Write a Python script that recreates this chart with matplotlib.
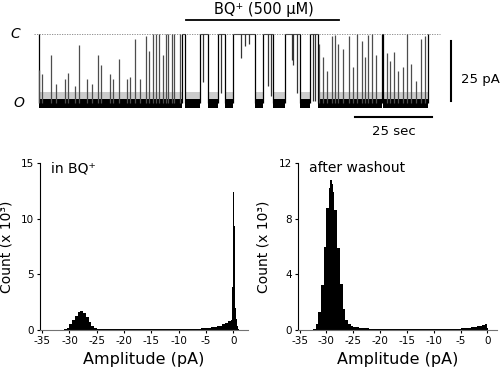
import numpy as np
import matplotlib
matplotlib.use('Agg')
import matplotlib.pyplot as plt

plt.rcParams['font.family'] = 'DejaVu Sans'
plt.rcParams['axes.unicode_minus'] = False

# ---- trace data (time in s, current in pA, closed level = 0) ----
open_level = -29.0
open_bursts = [(0.0, 46.4), (47.4, 52.3), (54.9, 58.1), (60.4, 63.0),
               (70.1, 72.7), (76.0, 79.9), (84.7, 88.0), (90.6, 111.4),
               (111.7, 126.3)]
# brief closing events during bursts: time, height above open level
spike_t = [0.1, 1.0, 3.8, 5.4, 8.4, 9.5, 11.7, 13.0, 15.5, 17.1, 19.3, 20.0,
           23.1, 24.1, 26.1, 28.5, 29.5, 31.2, 32.8, 34.7, 35.8, 37.1, 38.0,
           39.1, 40.4, 41.2, 42.0, 43.1, 43.8, 45.8,
           90.9, 92.3, 93.4, 95.0, 96.1, 97.2, 98.8, 100.8, 102.1, 103.2,
           104.8, 105.9, 106.9, 108.0, 109.4, 113.0, 114.0, 115.4, 116.7,
           118.3, 119.6, 120.7, 122.4, 124.0, 125.3]
spike_h = [14, 12, 20, 8, 10, 12.7, 7, 24.5, 10, 8, 20, 16,
           12, 10, 18.4, 10, 11, 27, 10, 28, 22, 29, 29,
           29, 20, 29, 29, 29, 29, 29,
           25, 19.5, 13.6, 28, 28.5, 25, 22.7, 28, 15, 29,
           26, 19.5, 28.5, 29, 20, 20.8, 17.8, 21.5, 13.6,
           15, 29, 16.5, 9.4, 27, 28]
# brief openings during closed periods: time, depth below closed level
open_t = [53.3, 59.1, 65.6, 66.9, 68.2, 74.4, 75.3, 82.1, 82.5, 83.8, 89.0, 89.6]
open_d = [20, 25, 10, 5, 4, 22, 26, 11, 13, 25, 28, 28]

# ---- amplitude histograms (counts x 10^3) ----
bq_edges = [-31, -30.5, -30, -29.5, -29, -28.5, -28, -27.5, -27, -26.5, -26,
            -25.5, -25, -24, -20, -15, -10, -6, -4, -3, -2, -1.5, -1, -0.5,
            -0.3, -0.1, 0.1, 0.3, 0.5, 0.7, 0.9, 1.1]
bq_counts = [0.05, 0.2, 0.5, 0.9, 1.3, 1.6, 1.7, 1.55, 1.2, 0.75, 0.4,
             0.2, 0.1, 0.06, 0.05, 0.06, 0.1, 0.15, 0.25, 0.4, 0.5, 0.65,
             0.8, 0.9, 3.9, 12.4, 9.3, 2.0, 1.0, 0.4, 0.1]
wash_edges = [-33, -32.5, -32, -31.5, -31, -30.5, -30, -29.5, -29.25, -29,
              -28.75, -28.5, -28, -27.5, -27, -26.5, -26, -25.5, -25, -24,
              -22, -18, -12, -8, -5, -4, -3, -2, -1, -0.5, 0, 0.2]
wash_counts = [0.03, 0.1, 0.4, 1.3, 3.2, 6.0, 8.8, 10.2, 10.8, 10.5,
               9.9, 8.6, 5.9, 3.3, 1.5, 0.7, 0.4, 0.28, 0.2, 0.12,
               0.08, 0.06, 0.06, 0.08, 0.12, 0.17, 0.22, 0.3, 0.35, 0.42, 0.15]

fig = plt.figure(figsize=(5, 3.73), dpi=100)

# ---- current trace ----
ax = fig.add_axes([0, 1 - 150 / 373, 1, 150 / 373])
ax.set_xlim(-12.66, 149.7)
ax.set_ylim(-48.8, 14.3)
ax.axis('off')

ax.plot([-1.6, 130.2], [0, 0], ls=(0, (1.5, 1.5)), color='0.5', lw=0.6)
for i, (a, b) in enumerate(open_bursts):
    ax.fill_between([a, b], open_level + 1.5, open_level + 4.5, color='0.8', lw=0)
    ax.fill_between([a, b], open_level - 2.2, open_level + 1.8, color='black', lw=0)
    ax.vlines([a, b], open_level, 0, color='black', lw=0.9)
    if i + 1 < len(open_bursts):
        ax.hlines(0, b, open_bursts[i + 1][0], color='0.3', lw=0.8)
ax.vlines(spike_t, open_level, open_level + np.array(spike_h), color='0.3', lw=0.9)
ax.vlines(open_t, -np.array(open_d), 0, color='0.2', lw=0.9)

# scale bars and labels
ax.plot([47.7, 97.4], [5.9, 5.9], color='black', lw=1.3)
ax.text(73.1, 10.1, 'BQ⁺ (500 μM)', ha='center', va='center', fontsize=10.5)
ax.plot([133.8, 133.8], [-28.1, -3.1], color='black', lw=1.5)
ax.text(137.0, -19.3, '25 pA', ha='left', va='center', fontsize=9.5)
ax.plot([102.6, 127.6], [-34.9, -34.9], color='black', lw=1.5)
ax.text(115.3, -41.2, '25 sec', ha='center', va='center', fontsize=9.5)
ax.text(-7.8, 0, 'C', ha='center', va='center', fontsize=10, style='italic')
ax.text(-6.5, open_level, 'O', ha='center', va='center', fontsize=10, style='italic')

# ---- histograms ----
def hist_panel(rect, edges, counts, ymax, yticks, xlim, label, ylab_x):
    h = fig.add_axes(rect)
    h.stairs(counts, edges, fill=True, color='black')
    h.set_xlim(*xlim)
    h.set_ylim(0, ymax)
    h.set_yticks(yticks)
    h.set_xticks([-35, -30, -25, -20, -15, -10, -5, 0])
    for s in ['top', 'right']:
        h.spines[s].set_visible(False)
    h.spines['bottom'].set_color('0.45')
    h.tick_params(direction='out', length=2.5, width=0.8, labelsize=7.5, pad=2)
    h.set_xlabel('Amplitude (pA)', fontsize=11.5)
    h.set_ylabel('Count (x 10³)', fontsize=10)
    h.yaxis.set_label_coords(ylab_x, 0.5)
    h.xaxis.set_label_coords(0.5, -0.13)
    h.text(0.055, 0.97, label, transform=h.transAxes, ha='left', va='center',
           fontsize=10)
    return h

hist_panel([0.08, 1 - 330 / 373, 0.416, 167 / 373], bq_edges, bq_counts,
           15, [0, 5, 10, 15], (-35.4, 2.7), 'in BQ⁺', -0.125)
hist_panel([0.596, 1 - 330 / 373, 0.398, 167 / 373], wash_edges, wash_counts,
           12, [0, 4, 8, 12], (-35.3, 1.8), 'after washout', -0.14)

fig.savefig('out.png', dpi=100)
